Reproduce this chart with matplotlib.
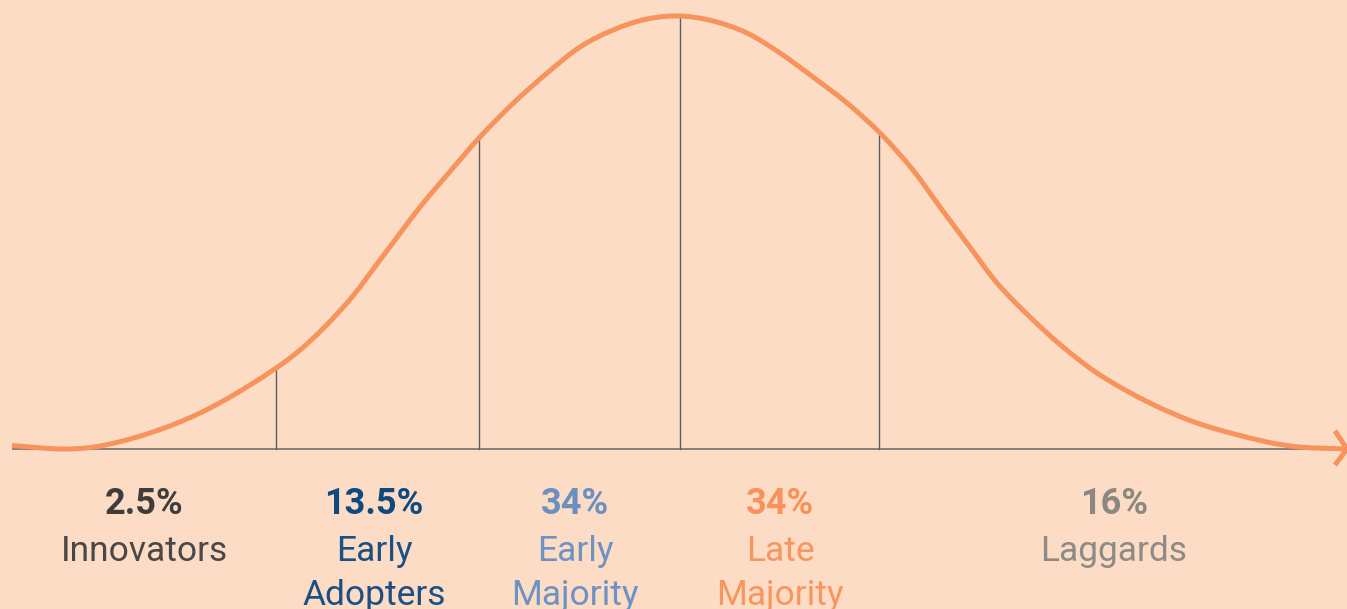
import numpy as np
import matplotlib
matplotlib.use("Agg")
import matplotlib.pyplot as plt
from matplotlib.path import Path
from matplotlib.patches import PathPatch

# Adoption curve: position in standard deviations from the mean,
# height as a share of the peak (peak = 100)
curve_sigma = [-3.34, -3.085, -2.90, -2.65, -2.40, -2.15, -1.90, -1.665,
               -1.50, -1.30, -1.165, -1.005, -0.835, -0.665, -0.50, -0.335,
               -0.165, 0.0, 0.165, 0.335, 0.50, 0.665, 0.835, 1.00, 1.165,
               1.30, 1.45, 1.585, 1.75, 1.915, 2.10, 2.35, 2.60, 2.935, 3.10,
               3.335]
curve_height = [0.81, 0.0, 0.69, 3.70, 8.31, 14.78, 22.86, 33.72,
                43.65, 55.89, 63.28, 71.82, 79.80, 86.80, 92.84, 96.77,
                99.31, 100.0, 98.85, 96.07, 91.45, 85.91, 79.91, 72.98, 64.43,
                55.89, 46.60, 38.34, 30.48, 23.56, 17.09, 10.62, 5.77, 1.62, 0.46,
                0.0]

# Segment boundaries (in standard deviations)
dividers = [-2.02, -1.005, 0.0, 0.995]

# Adopter groups
groups = ["Innovators", "Early\nAdopters", "Early\nMajority", "Late\nMajority", "Laggards"]
shares = ["2.5%", "13.5%", "34%", "34%", "16%"]
label_sigma = [-2.68, -1.53, -0.525, 0.50, 2.17]
share_colors = ["#3f3d3c", "#0d4a80", "#6b8fc1", "#f7925a", "#8b8782"]
name_colors = ["#4a4846", "#1b5085", "#6e92c3", "#f7965f", "#8e8a85"]

BG = "#fddcc5"
ORANGE = "#f7935c"

plt.rcParams["font.family"] = ["Roboto", "DejaVu Sans"]


def smooth_path(xs, ys):
    """Cubic Bezier path through the points (Catmull-Rom tangents)."""
    pts = np.column_stack([xs, ys]).astype(float)
    n = len(pts)
    verts = [pts[0]]
    codes = [Path.MOVETO]
    for i in range(n - 1):
        p0 = pts[max(i - 1, 0)]
        p1 = pts[i]
        p2 = pts[i + 1]
        p3 = pts[min(i + 2, n - 1)]
        h = p2[0] - p1[0]
        # tangents scaled to the local spacing to avoid overshoot
        t1 = (p2 - p0) / (p2[0] - p0[0]) * h
        t2 = (p3 - p1) / (p3[0] - p1[0]) * h
        c1 = p1 + t1 / 3.0
        c2 = p2 - t2 / 3.0
        verts += [c1, c2, p2]
        codes += [Path.CURVE4] * 3
    return Path(verts, codes)


fig = plt.figure(figsize=(13.47, 6.09), dpi=100, facecolor=BG)
ax = fig.add_axes([0, 0, 1, 1])
ax.set_facecolor(BG)
ax.set_xlim(-3.4, 3.335)
ax.set_ylim(-36.95, 103.7)
ax.axis("off")

# Baseline
ax.plot([-3.34, 3.33], [0, 0], color="#7c7a78", lw=1.3, zorder=1,
        solid_capstyle="butt")

# Dividers up to the curve
for d in dividers:
    top = np.interp(d, curve_sigma, curve_height)
    ax.plot([d, d], [0, top], color="#5e5e60", lw=1.0, zorder=1)

# Bell curve
ax.add_patch(PathPatch(smooth_path(curve_sigma, curve_height), facecolor="none",
                       edgecolor=ORANGE, lw=3.6, zorder=3, capstyle="butt",
                       joinstyle="round"))

# Arrow head at the right end of the axis
ax.plot([3.275, 3.335, 3.275], [4.2, 0, -3.7], color=ORANGE, lw=3.6,
        zorder=3, solid_joinstyle="miter", solid_capstyle="butt")

# Labels
for x, share, name, sc, nc in zip(label_sigma, shares, groups, share_colors, name_colors):
    ax.text(x, -15.0, share, ha="center", va="baseline", fontsize=26,
            fontweight="bold", color=sc)
    for i, line in enumerate(name.split("\n")):
        ax.text(x, -25.9 - 10.16 * i, line, ha="center", va="baseline",
                fontsize=25.5, fontweight="normal", color=nc)

fig.savefig("out.png", dpi=100, facecolor=BG)
